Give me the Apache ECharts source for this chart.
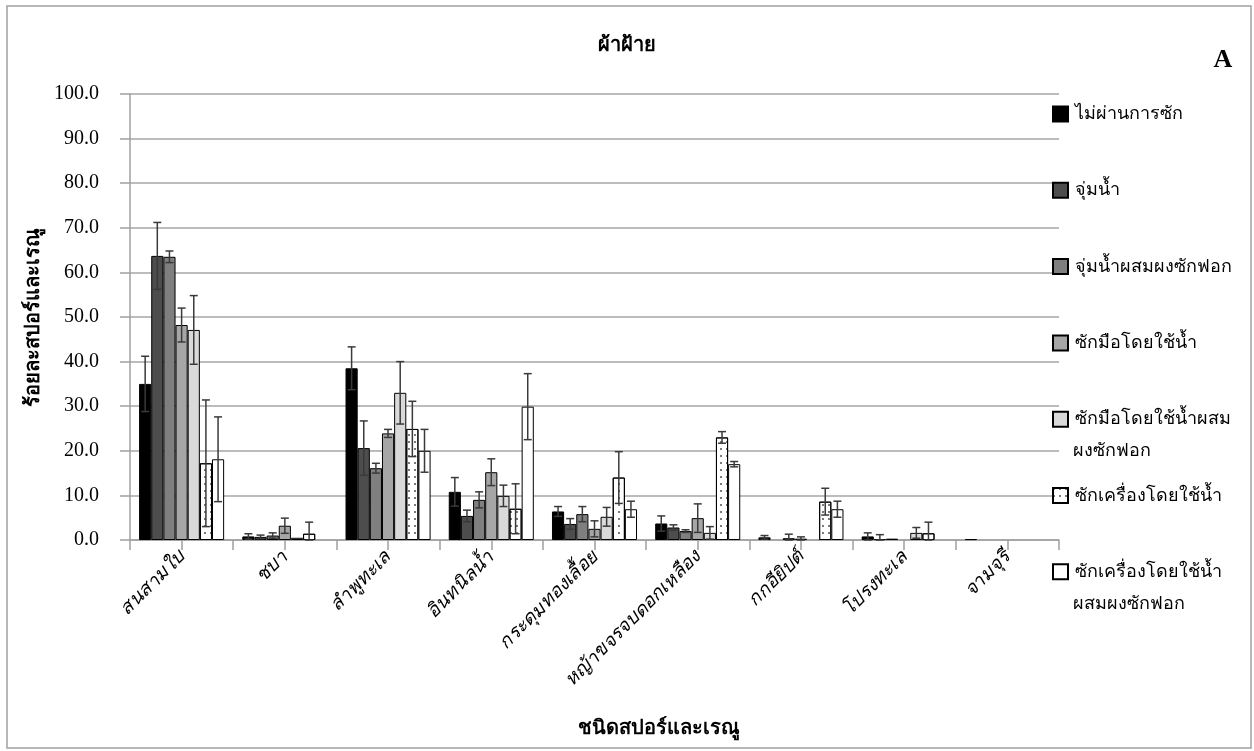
<!DOCTYPE html>
<html>
<head>
<meta charset="utf-8">
<style>
  html, body { margin: 0; padding: 0; background: #fff; }
  #chart { width: 1254px; height: 751px; }
</style>
<script src="https://cdn.jsdelivr.net/npm/echarts@6/dist/echarts.min.js"></script>
</head>
<body>
<div id="chart"></div>
<script>
// Spore and pollen types on cotton fabric
const categories = ['สนสามใบ', 'ชบา', 'ลำพูทะเล', 'อินทนิลน้ำ', 'กระดุมทองเลื้อย', 'หญ้าขจรจบดอกเหลือง', 'กกอียิปต์', 'โปรงทะเล', 'จามจุรี'];

// Legend text, split where it wraps onto a second line
const legendLines = [
  ['ไม่ผ่านการซัก'],
  ['จุ่มน้ำ'],
  ['จุ่มน้ำผสมผงซักฟอก'],
  ['ซักมือโดยใช้น้ำ'],
  ['ซักมือโดยใช้น้ำผสม', 'ผงซักฟอก'],
  ['ซักเครื่องโดยใช้น้ำ'],
  ['ซักเครื่องโดยใช้น้ำ', 'ผสมผงซักฟอก']
];

// Percentage per treatment, in category order
const unwashed        = [35.0, 0.8, 38.5, 10.8, 6.4, 3.7, 0.6, 0.8, 0.2];
const dipped          = [63.7, 0.7, 20.6, 5.4, 3.6, 2.8, 0.0, 0.2, 0.0];
const dippedDetergent = [63.5, 1.0, 16.1, 9.0, 5.8, 2.0, 0.4, 0.3, 0.0];
const handWater       = [48.2, 3.2, 23.9, 15.2, 2.5, 4.9, 0.3, 0.0, 0.0];
const handDetergent   = [47.1, 0.5, 33.0, 9.9, 5.2, 1.6, 0.0, 1.6, 0.0];
const machineWater    = [17.2, 1.4, 24.9, 7.0, 14.0, 23.0, 8.6, 1.5, 0.0];
const machineDetergent= [18.1, 0.0, 20.0, 29.9, 6.9, 17.0, 6.9, 0.0, 0.0];

// Error (± standard deviation) for each value above
const unwashedErr        = [6.2, 0.6, 4.8, 3.2, 1.1, 1.7, 0.4, 0.8, 0.0];
const dippedErr          = [7.5, 0.4, 6.1, 1.3, 1.2, 0.6, 0.0, 1.0, 0.0];
const dippedDetergentErr = [1.3, 0.6, 1.1, 1.8, 1.7, 0.3, 0.9, 0.0, 0.0];
const handWaterErr       = [3.8, 1.7, 0.9, 3.0, 1.8, 3.2, 0.4, 0.0, 0.0];
const handDetergentErr   = [7.7, 0.0, 7.0, 2.4, 2.1, 1.4, 0.0, 1.2, 0.0];
const machineWaterErr    = [14.2, 2.6, 6.2, 5.6, 5.8, 1.3, 3.0, 2.5, 0.0];
const machineDetergentErr= [9.5, 0.0, 4.8, 7.4, 1.8, 0.6, 1.8, 0.0, 0.0];

const yTicks = [0, 10, 20, 30, 40, 50, 60, 70, 80, 90, 100];

const values = [unwashed, dipped, dippedDetergent, handWater, handDetergent, machineWater, machineDetergent];
const errors = [unwashedErr, dippedErr, dippedDetergentErr, handWaterErr, handDetergentErr, machineWaterErr, machineDetergentErr];
const fills = ['#000000', '#4d4d4d', '#7f7f7f', '#a6a6a6', '#d9d9d9', '#ffffff', '#ffffff'];
const names = legendLines.map(l => l.join(''));

const CAT_GAP = 0.176;
const thaiFont = '"Noto Sans", "DejaVu Sans", sans-serif';
const serifFont = '"Liberation Serif", "DejaVu Serif", serif';

const chart = echarts.init(document.getElementById('chart'), null, { renderer: 'canvas' });

const barSeries = values.map((vals, k) => ({
  name: names[k],
  type: 'bar',
  xAxisIndex: 0,
  yAxisIndex: 0,
  // a zero share is left empty rather than drawn as a flat outline
  data: vals.map(v => (v === 0 ? '-' : v)),
  barGap: '0%',
  barCategoryGap: (CAT_GAP * 100) + '%',
  itemStyle: Object.assign({
    color: fills[k],
    borderColor: '#000',
    borderWidth: 1
  }, k === 5 ? {
    decal: {
      symbol: 'rect',
      symbolSize: 0.8,
      dashArrayX: [[1.5, 4]],
      dashArrayY: [1.5, 4.5],
      color: '#222',
      rotation: 0
    }
  } : {}),
  emphasis: { disabled: true },
  z: 2
}));

const errSeries = values.map((vals, k) => ({
  type: 'custom',
  xAxisIndex: 0,
  yAxisIndex: 0,
  z: 5,
  silent: true,
  encode: { x: 0, y: 1 },
  data: vals.map((v, i) => [i, v, errors[k][i]]),
  renderItem: function (params, api) {
    const ci = api.value(0), v = api.value(1), e = api.value(2);
    if (!e) return null;
    const catW = api.size([1, 0])[0];
    const bw = catW * (1 - CAT_GAP) / values.length;
    const c = api.coord([ci, v]);
    const x = c[0] + (k - (values.length - 1) / 2) * bw;
    const yTop = api.coord([ci, v + e])[1];
    const yBot = api.coord([ci, Math.max(v - e, 0)])[1];
    const cap = 4;
    const st = { stroke: '#3a3a3a', lineWidth: 1.5 };
    return {
      type: 'group',
      children: [
        { type: 'line', shape: { x1: x, y1: yTop, x2: x, y2: yBot }, style: st },
        { type: 'line', shape: { x1: x - cap, y1: yTop, x2: x + cap, y2: yTop }, style: st },
        { type: 'line', shape: { x1: x - cap, y1: yBot, x2: x + cap, y2: yBot }, style: st }
      ]
    };
  }
}));

// Legend geometry
const LEGEND_LEFT = 1047;
const LEGEND_TOP = 99;
const LEGEND_STEP = 76.3;
const LEGEND_ITEM_H = 20;
const LINE2_OFFSET = 38;

const contLines = [];
legendLines.forEach((lines, k) => {
  lines.slice(1).forEach((txt, j) => {
    contLines.push({
      type: 'text',
      left: LEGEND_LEFT + 26,
      top: LEGEND_TOP + k * LEGEND_STEP + LINE2_OFFSET * (j + 1),
      style: { text: txt, fill: '#000', font: '18px ' + thaiFont },
      z: 10
    });
  });
});

const option = {
  animation: false,
  backgroundColor: '#fff',
  textStyle: { fontFamily: thaiFont },
  title: [
    {
      text: 'ผ้าฝ้าย',
      left: 622, top: 30, textAlign: 'center',
      textStyle: { fontSize: 20, fontWeight: 'bold', color: '#000', fontFamily: thaiFont }
    },
    {
      text: 'A',
      left: 1218, top: 42, textAlign: 'center',
      textStyle: { fontSize: 26, fontWeight: 'bold', color: '#000', fontFamily: serifFont }
    },
    {
      text: 'ชนิดสปอร์และเรณู',
      left: 654, top: 713, textAlign: 'center',
      textStyle: { fontSize: 20, fontWeight: 'bold', color: '#000', fontFamily: thaiFont }
    }
  ],
  legend: {
    data: names,
    orient: 'vertical',
    left: LEGEND_LEFT,
    top: LEGEND_TOP,
    itemWidth: 15,
    itemHeight: 15,
    itemGap: LEGEND_STEP - LEGEND_ITEM_H,
    icon: 'rect',
    selectedMode: false,
    formatter: name => legendLines[names.indexOf(name)][0],
    textStyle: { fontSize: 18, color: '#000', fontFamily: thaiFont, height: LEGEND_ITEM_H, lineHeight: LEGEND_ITEM_H, padding: [0, 0, 0, 2] }
  },
  grid: { left: 130, right: 195, top: 94, bottom: 211, containLabel: false },
  xAxis: [
    {
      type: 'category',
      data: categories,
      boundaryGap: true,
      axisLine: { show: true, lineStyle: { color: '#a0a0a0', width: 1.5 } },
      axisTick: { show: false },
      axisLabel: {
        interval: 0,
        rotate: 45,
        margin: 14,
        fontSize: 19,
        fontStyle: 'italic',
        color: '#000',
        fontFamily: thaiFont
      },
      splitLine: { show: false }
    },
    {
      // tick marks at every category boundary and centre
      type: 'value',
      position: 'bottom',
      min: 0,
      max: categories.length,
      interval: 0.5,
      axisLine: { show: false },
      axisTick: { show: true, length: 10, lineStyle: { color: '#a0a0a0', width: 1.5 } },
      axisLabel: { show: false },
      splitLine: { show: false }
    }
  ],
  yAxis: {
    type: 'value',
    min: yTicks[0],
    max: yTicks[yTicks.length - 1],
    interval: yTicks[1] - yTicks[0],
    name: 'ร้อยละสปอร์และเรณู',
    nameLocation: 'middle',
    nameRotate: 90,
    nameGap: 86,
    nameTextStyle: { fontSize: 20, fontWeight: 'bold', color: '#000', fontFamily: thaiFont },
    axisLine: { show: true, lineStyle: { color: '#a0a0a0', width: 1.5 } },
    axisTick: { show: true, inside: false, length: 10, lineStyle: { color: '#a0a0a0', width: 1.5 } },
    axisLabel: {
      margin: 31,
      fontSize: 20,
      color: '#000',
      fontFamily: serifFont,
      formatter: v => v.toFixed(1)
    },
    splitLine: { show: true, lineStyle: { color: '#a6a6a6', width: 1.5 } }
  },
  graphic: [
    {
      type: 'rect',
      shape: { x: 7, y: 6, width: 1244, height: 742 },
      style: { fill: 'none', stroke: '#a0a0a0', lineWidth: 1.5 },
      silent: true,
      z: 0
    }
  ].concat(contLines),
  series: barSeries.concat(errSeries)
};

chart.setOption(option);
</script>
</body>
</html>
